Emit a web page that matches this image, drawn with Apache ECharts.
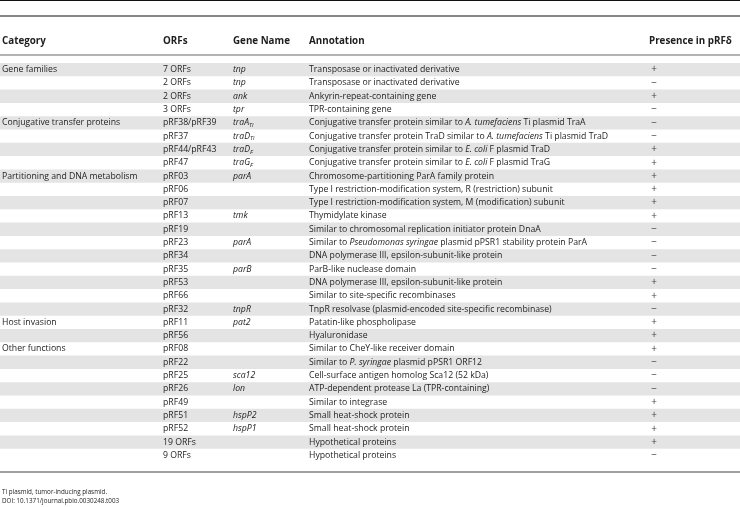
<!DOCTYPE html>
<html>
<head>
<meta charset="utf-8">
<script src="https://cdn.jsdelivr.net/npm/echarts@6/dist/echarts.min.js"></script>
<style>
  html, body { margin: 0; padding: 0; background: #fff; }
  #chart { width: 740px; height: 507px; }
</style>
</head>
<body>
<div id="chart"></div>
<script>
// column headers
var headers = ['Category', 'ORFs', 'Gene Name', 'Annotation', 'Presence in pRF\u03b4'];

// first row of each group carries the category name
var categories = ['Gene families', '', '', '',
  'Conjugative transfer proteins', '', '', '',
  'Partitioning and DNA metabolism', '', '', '', '', '', '', '', '', '', '',
  'Host invasion', '',
  'Other functions', '', '', '', '', '', '', '', ''];

var orfs = ['7 ORFs', '2 ORFs', '2 ORFs', '3 ORFs',
  'pRF38/pRF39', 'pRF37', 'pRF44/pRF43', 'pRF47',
  'pRF03', 'pRF06', 'pRF07', 'pRF13', 'pRF19', 'pRF23', 'pRF34', 'pRF35', 'pRF53', 'pRF66', 'pRF32',
  'pRF11', 'pRF56',
  'pRF08', 'pRF22', 'pRF25', 'pRF26', 'pRF49', 'pRF51', 'pRF52', '19 ORFs', '9 ORFs'];

// gene name, subscript after the "|"
var genes = ['tnp', 'tnp', 'ank', 'tpr',
  'traA|Ti', 'traD|Ti', 'traD|F', 'traG|F',
  'parA', '', '', 'tmk', '', 'parA', '', 'parB', '', '', 'tnpR',
  'pat2', '',
  '', '', 'sca12', 'lon', '', 'hspP2', 'hspP1', '', ''];

// {i|...} = italic
var annotations = [
  'Transposase or inactivated derivative',
  'Transposase or inactivated derivative',
  'Ankyrin-repeat-containing gene',
  'TPR-containing gene',
  'Conjugative transfer protein similar to {i|A. tumefaciens} Ti plasmid TraA',
  'Conjugative transfer protein TraD similar to {i|A. tumefaciens} Ti plasmid TraD',
  'Conjugative transfer protein similar to {i|E. coli} F plasmid TraD',
  'Conjugative transfer protein similar to {i|E. coli} F plasmid TraG',
  'Chromosome-partitioning ParA family protein',
  'Type I restriction-modification system, R (restriction) subunit',
  'Type I restriction-modification system, M (modification) subunit',
  'Thymidylate kinase',
  'Similar to chromosomal replication initiator protein DnaA',
  'Similar to {i|Pseudomonas syringae} plasmid pPSR1 stability protein ParA',
  'DNA polymerase III, epsilon-subunit-like protein',
  'ParB-like nuclease domain',
  'DNA polymerase III, epsilon-subunit-like protein',
  'Similar to site-specific recombinases',
  'TnpR resolvase (plasmid-encoded site-specific recombinase)',
  'Patatin-like phospholipase',
  'Hyaluronidase',
  'Similar to CheY-like receiver domain',
  'Similar to {i|P. syringae} plasmid pPSR1 ORF12',
  'Cell-surface antigen homolog Sca12 (52 kDa)',
  'ATP-dependent protease La (TPR-containing)',
  'Similar to integrase',
  'Small heat-shock protein',
  'Small heat-shock protein',
  'Hypothetical proteins',
  'Hypothetical proteins'];

var presence = ['+', '-', '+', '-',
  '-', '-', '+', '+',
  '+', '+', '+', '+', '-', '-', '-', '-', '+', '+', '-',
  '+', '+',
  '+', '-', '-', '-', '+', '+', '+', '+', '-'];

var footnotes = ['Ti plasmid, tumor-inducing plasmid.', 'DOI: 10.1371/journal.pbio.0030248.t003'];

var FONT = '"Open Sans", sans-serif';
var FS = 8.7;
var colX = [2, 163, 233, 309, 649];   // left edge of each column
var textColor = '#1e1e1e';

var rowData = orfs.map(function (o, i) { return [0, i]; });

var chart = echarts.init(document.getElementById('chart'));

function renderRow(params, api) {
  var i = api.value(1);
  var pt = api.coord([0, i]);
  var band = api.size([0, 1])[1];
  var y = pt[1];
  var children = [];

  // alternating shading
  if (i % 2 === 0) {
    children.push({
      type: 'rect',
      shape: { x: 0, y: y - band / 2, width: 740, height: band },
      style: { fill: '#e4e4e4' }
    });
  }

  var base = { fontFamily: FONT, fontSize: FS, fill: textColor, verticalAlign: 'middle' };

  children.push({ type: 'text', x: api.coord([colX[0], i])[0], y: y,
    style: Object.assign({ text: categories[i] }, base) });
  children.push({ type: 'text', x: api.coord([colX[1], i])[0], y: y,
    style: Object.assign({ text: orfs[i] }, base) });

  if (genes[i]) {
    var parts = genes[i].split('|');
    var txt = '{g|' + parts[0] + '}' + (parts[1] ? '{s|' + parts[1] + '}' : '');
    children.push({ type: 'text', x: api.coord([colX[2], i])[0], y: y,
      style: Object.assign({}, base, {
        text: txt,
        rich: {
          g: { fontFamily: FONT, fontSize: FS, fontStyle: 'italic', fill: textColor },
          s: { fontFamily: FONT, fontSize: 6, fontStyle: 'italic', fill: textColor, padding: [5, 0, 0, 0] }
        }
      }) });
  }

  children.push({ type: 'text', x: api.coord([colX[3], i])[0], y: y,
    style: Object.assign({}, base, {
      text: annotations[i],
      rich: { i: { fontFamily: FONT, fontSize: FS, fontStyle: 'italic', fill: textColor } }
    }) });

  children.push({ type: 'text', x: api.coord([654, i])[0], y: y,
    style: Object.assign({}, base, {
      text: presence[i] === '+' ? '+' : '\u2212',
      align: 'center', fontSize: 10, fill: '#444'
    }) });

  return { type: 'group', children: children };
}

var graphics = [
  { type: 'line', shape: { x1: 0, y1: 0.5, x2: 740, y2: 0.5 }, style: { stroke: '#111', lineWidth: 1 } },
  { type: 'line', shape: { x1: 0, y1: 16, x2: 740, y2: 16 }, style: { stroke: '#111', lineWidth: 1.2 } },
  { type: 'line', shape: { x1: 0, y1: 55, x2: 740, y2: 55 }, style: { stroke: '#666', lineWidth: 1 } },
  { type: 'line', shape: { x1: 0, y1: 472, x2: 740, y2: 472 }, style: { stroke: '#444', lineWidth: 1.2 } }
];
headers.forEach(function (h, k) {
  graphics.push({ type: 'text', x: colX[k], y: 41,
    style: { text: h, fontFamily: FONT, fontSize: 9.8, fontWeight: 'bold', fill: textColor, verticalAlign: 'middle' } });
});
footnotes.forEach(function (f, k) {
  graphics.push({ type: 'text', x: 2, y: 492 + k * 9,
    style: { text: f, fontFamily: FONT, fontSize: 6.3, fill: textColor, verticalAlign: 'middle' } });
});

chart.setOption({
  animation: false,
  grid: { left: 0, right: 0, top: 63, height: 399 },
  xAxis: { type: 'value', min: 0, max: 740, show: false },
  yAxis: { type: 'category', data: orfs.map(function (o, i) { return i; }), inverse: true, show: false },
  graphic: graphics,
  series: [{
    type: 'custom',
    renderItem: renderRow,
    data: rowData,
    encode: { x: 0, y: 1 },
    clip: false
  }]
});
</script>
</body>
</html>
